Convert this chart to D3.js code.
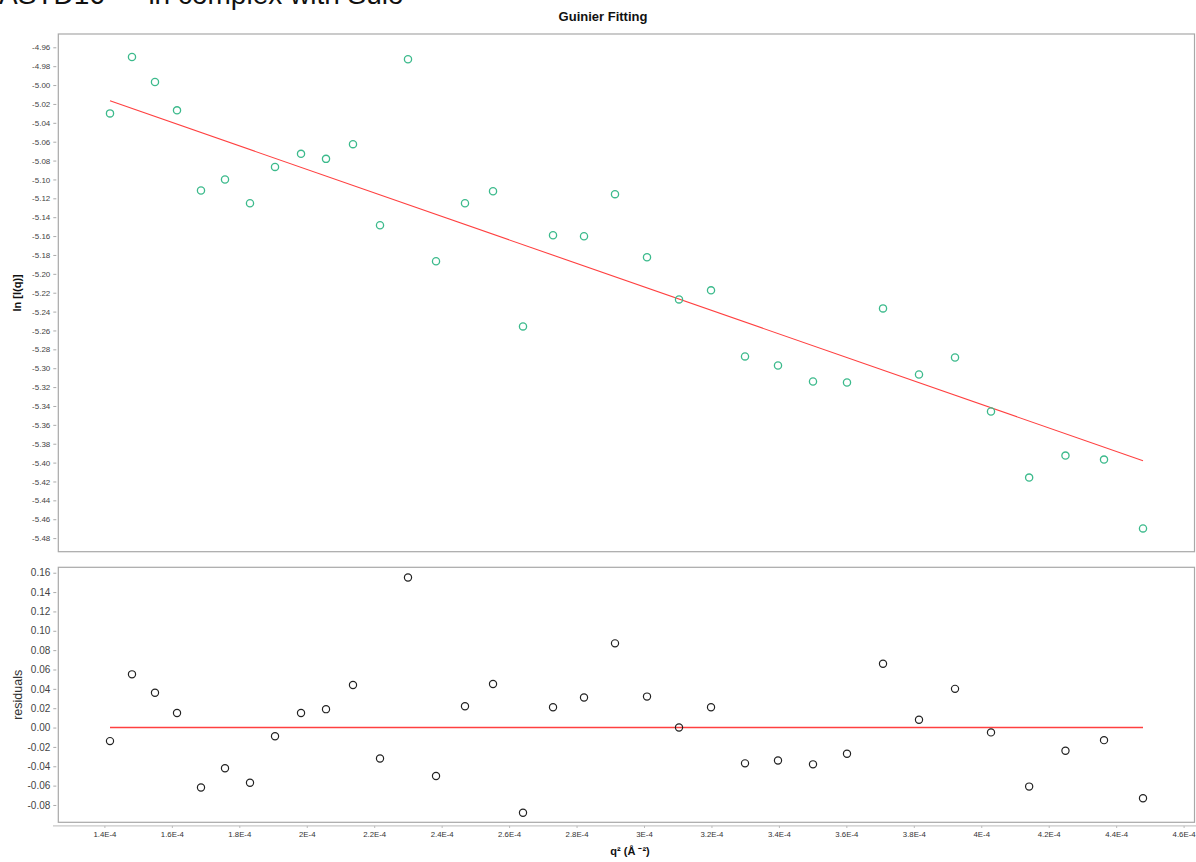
<!DOCTYPE html>
<html lang="en">
<head>
<meta charset="UTF-8">
<title>Guinier Fitting</title>
<script src="https://cdn.jsdelivr.net/npm/d3@7"></script>
<style>
  html, body { margin: 0; padding: 0; background: #fff; }
  svg { display: block; font-family: "Liberation Sans", Arial, sans-serif; }
</style>
</head>
<body>
<div id="chart"></div>
<script>
// q^2 in units of 1E-4
const q2 = [1.4166, 1.4818, 1.5500, 1.6153, 1.6864, 1.7576, 1.8317, 1.9059, 1.9830, 2.0571,
            2.1371, 2.2172, 2.3002, 2.3833, 2.4692, 2.5523, 2.6412, 2.7302, 2.8221, 2.9140,
            3.0089, 3.1038, 3.1987, 3.2995, 3.3973, 3.5011, 3.6019, 3.7087, 3.8154, 3.9222,
            4.0289, 4.1420, 4.2497, 4.3640, 4.4796];

const lnI = [-5.0300, -4.9703, -4.9968, -5.0268, -5.1117, -5.1001, -5.1252, -5.0867, -5.0729, -5.0782,
             -5.0626, -5.1485, -4.9727, -5.1867, -5.1252, -5.1125, -5.2557, -5.1592, -5.1602, -5.1156,
             -5.1825, -5.2271, -5.2175, -5.2875, -5.2971, -5.3141, -5.3151, -5.2366, -5.3066, -5.2886,
             -5.3459, -5.4159, -5.3926, -5.3968, -5.4697];

const residuals = [-0.014, 0.055, 0.036, 0.015, -0.062, -0.042, -0.057, -0.009, 0.015, 0.019,
                   0.044, -0.032, 0.155, -0.050, 0.022, 0.045, -0.088, 0.021, 0.031, 0.087,
                   0.032, 0.000, 0.021, -0.037, -0.034, -0.038, -0.027, 0.066, 0.008, 0.040,
                   -0.005, -0.061, -0.024, -0.013, -0.073];

// fitted line end points
const fitX = [1.4166, 4.4796];
const fitY = [-5.0167, -5.3980];
const zeroY = [0, 0];

const xTicks = [1.4, 1.6, 1.8, 2.0, 2.2, 2.4, 2.6, 2.8, 3.0, 3.2, 3.4, 3.6, 3.8, 4.0, 4.2, 4.4, 4.6];
const xTickLabels = ["1.4E-4", "1.6E-4", "1.8E-4", "2E-4", "2.2E-4", "2.4E-4", "2.6E-4", "2.8E-4", "3E-4",
                     "3.2E-4", "3.4E-4", "3.6E-4", "3.8E-4", "4E-4", "4.2E-4", "4.4E-4", "4.6E-4"];
const topTicks = [-4.96, -4.98, -5.00, -5.02, -5.04, -5.06, -5.08, -5.10, -5.12, -5.14, -5.16, -5.18, -5.20,
                  -5.22, -5.24, -5.26, -5.28, -5.30, -5.32, -5.34, -5.36, -5.38, -5.40, -5.42, -5.44, -5.46, -5.48];
const resTicks = [0.16, 0.14, 0.12, 0.10, 0.08, 0.06, 0.04, 0.02, 0.00, -0.02, -0.04, -0.06, -0.08];

const W = 1196, H = 862;
const left = 58.3, right = 1194.5;
const top1 = 34, bot1 = 551.7;
const top2 = 567.3, bot2 = 822.3;
const RED = "#ff4040";

const svg = d3.select("#chart").append("svg")
    .attr("width", W)
    .attr("height", H);

const x = d3.scaleLinear().domain([1.2633, 4.6323]).range([left, right]);
const yTop = d3.scaleLinear().domain([-5.4944, -4.9459]).range([bot1, top1]);
const yRes = d3.scaleLinear().domain([-0.0979, 0.1656]).range([bot2, top2]);

// heading cut off at the very top of the page
svg.append("text")
    .attr("x", -1)
    .attr("y", 4)
    .attr("font-size", 28)
    .attr("fill", "#111")
    .text("ASTD16 — in complex with Sulo");

svg.append("text")
    .attr("x", 603)
    .attr("y", 21)
    .attr("text-anchor", "middle")
    .attr("font-size", 13)
    .attr("font-weight", "bold")
    .attr("fill", "#111")
    .text("Guinier Fitting");

// frames
[[top1, bot1], [top2, bot2]].forEach(([t, b]) => {
  svg.append("rect")
      .attr("x", left).attr("y", t)
      .attr("width", right - left).attr("height", b - t)
      .attr("fill", "#fff")
      .attr("stroke", "#a8a8a8")
      .attr("stroke-width", 1.2);
});

// top y axis
const ayTop = svg.append("g")
    .attr("transform", `translate(${left - 2},0)`)
    .call(d3.axisLeft(yTop).tickValues(topTicks).tickSize(3).tickPadding(3)
      .tickFormat(d => d3.format(".2f")(d).replace("−", "-")));
ayTop.select(".domain").remove();
ayTop.selectAll("line").attr("stroke", "#aaa");
ayTop.selectAll("text").attr("font-size", 8).attr("fill", "#444")
    .attr("font-family", "'Liberation Sans', Arial, sans-serif");

// residual y axis
const ayRes = svg.append("g")
    .attr("transform", `translate(${left - 2},0)`)
    .call(d3.axisLeft(yRes).tickValues(resTicks).tickSize(3).tickPadding(3)
      .tickFormat(d => d3.format(".2f")(d).replace("−", "-")));
ayRes.select(".domain").remove();
ayRes.selectAll("line").attr("stroke", "#aaa");
ayRes.selectAll("text").attr("font-size", 10).attr("fill", "#444")
    .attr("font-family", "'Liberation Sans', Arial, sans-serif");

// x axis below the residual panel
const ax = svg.append("g")
    .attr("transform", `translate(0,${bot2 + 3.5})`)
    .call(d3.axisBottom(x).tickValues(xTicks).tickSize(2).tickPadding(4)
      .tickFormat((d, i) => xTickLabels[i]));
ax.select(".domain").remove();
ax.selectAll("line").attr("stroke", "#aaa");
ax.selectAll("text").attr("font-size", 7.8).attr("fill", "#333")
    .attr("font-family", "'Liberation Sans', Arial, sans-serif");
svg.append("line")
    .attr("x1", 53).attr("x2", W)
    .attr("y1", bot2 + 3.5).attr("y2", bot2 + 3.5)
    .attr("stroke", "#c8c8c8").attr("stroke-width", 1.2);

// axis titles
svg.append("text")
    .attr("transform", `translate(21,${(top1 + bot1) / 2}) rotate(-90)`)
    .attr("text-anchor", "middle")
    .attr("font-size", 11)
    .attr("font-weight", "bold")
    .attr("fill", "#111")
    .text("ln [I(q)]");

svg.append("text")
    .attr("transform", `translate(22,${(top2 + bot2) / 2}) rotate(-90)`)
    .attr("text-anchor", "middle")
    .attr("font-size", 12.5)
    .attr("fill", "#333")
    .text("residuals");

svg.append("text")
    .attr("x", 630)
    .attr("y", 855)
    .attr("text-anchor", "middle")
    .attr("font-size", 11)
    .attr("font-weight", "bold")
    .attr("fill", "#111")
    .text("q² (Å ⁻²)");

// fit line
const fitLine = d3.line().x(d => x(d[0])).y(d => yTop(d[1]));
svg.append("path")
    .attr("d", fitLine(d3.zip(fitX, fitY)))
    .attr("fill", "none")
    .attr("stroke", RED)
    .attr("stroke-width", 1.1);

// data points
svg.append("g")
  .selectAll("circle")
  .data(q2)
  .join("circle")
    .attr("cx", d => x(d))
    .attr("cy", (d, i) => yTop(lnI[i]))
    .attr("r", 3.6)
    .attr("fill", "none")
    .attr("stroke", "#3cba8c")
    .attr("stroke-width", 1.3);

// zero line in residual panel
const zeroLine = d3.line().x(d => x(d[0])).y(d => yRes(d[1]));
svg.append("path")
    .attr("d", zeroLine(d3.zip([q2[0], q2[q2.length - 1]], zeroY)))
    .attr("fill", "none")
    .attr("stroke", RED)
    .attr("stroke-width", 1.4);

svg.append("g")
  .selectAll("circle")
  .data(q2)
  .join("circle")
    .attr("cx", d => x(d))
    .attr("cy", (d, i) => yRes(residuals[i]))
    .attr("r", 3.6)
    .attr("fill", "none")
    .attr("stroke", "#222")
    .attr("stroke-width", 1.2);
</script>
</body>
</html>
